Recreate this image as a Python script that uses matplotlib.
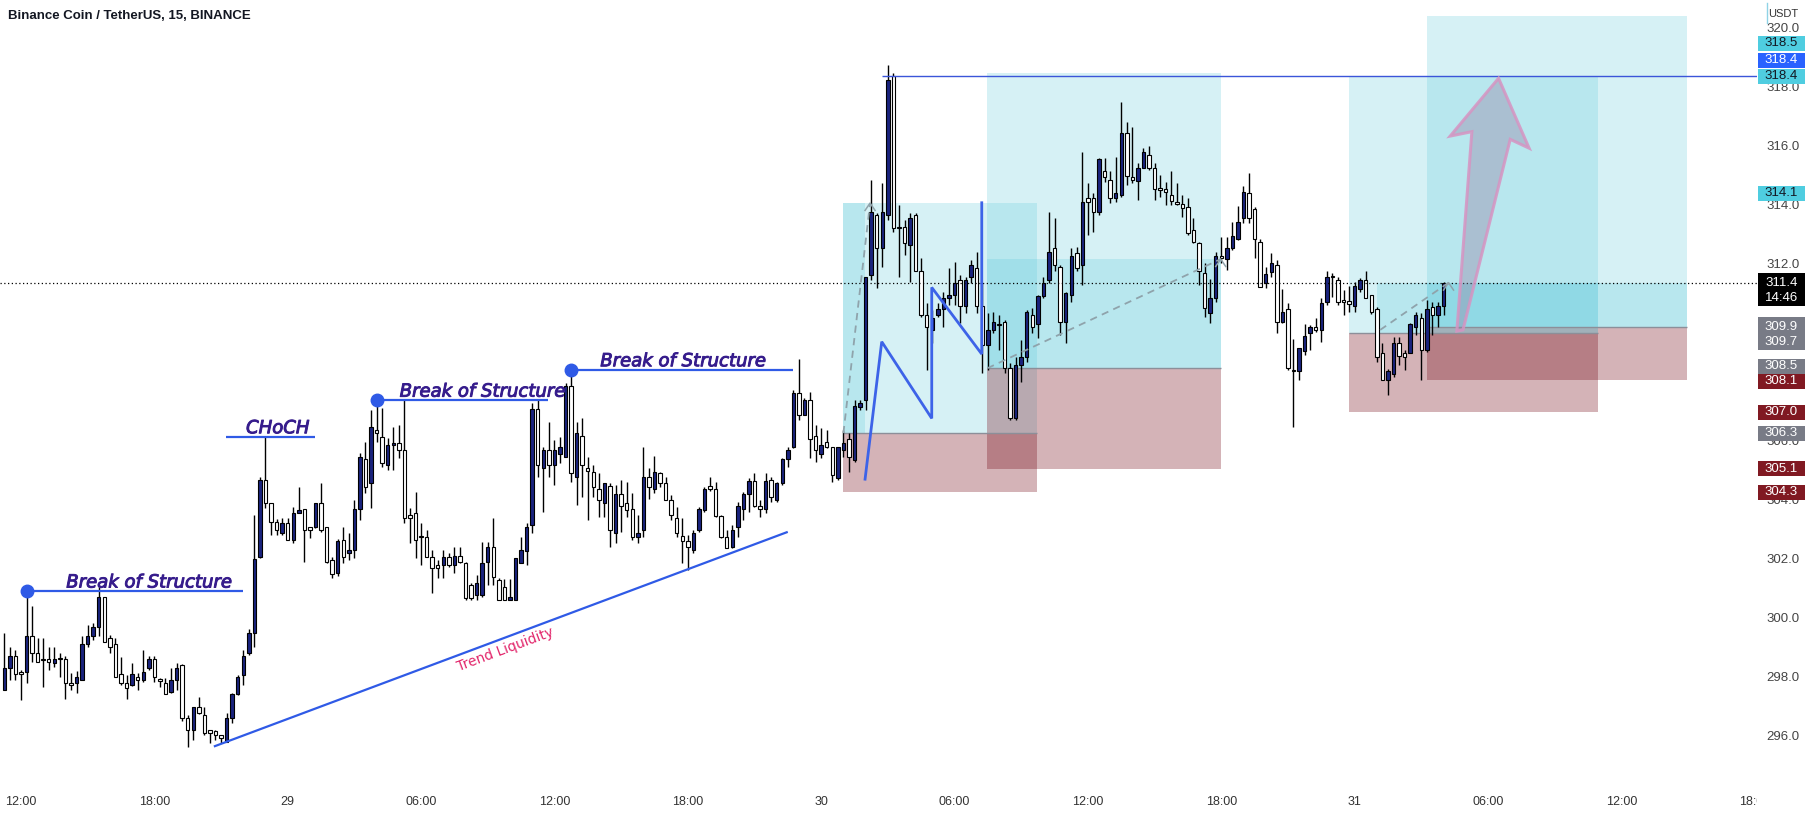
import numpy as np
import matplotlib
matplotlib.use("Agg")
import matplotlib.pyplot as plt
import matplotlib.patheffects as pe
from matplotlib.patches import Rectangle, Polygon
from matplotlib.lines import Line2D
from matplotlib.transforms import Bbox, IdentityTransform, blended_transform_factory

# BNBUSDT 15m candles, bar 0 = 28th 12:00
FIRST_BAR = -3
opens = [
    297.59, 298.33, 298.75, 298.21, 298.21, 299.42, 298.84, 298.64, 298.64, 298.52,
    298.64, 298.64, 297.84, 297.84, 297.93, 299.14, 299.42, 299.72, 300.73, 299.37,
    299.14, 298.12, 297.84, 297.76, 298.05, 297.93, 298.33, 298.64, 297.93, 297.84,
    297.54, 297.93, 298.44, 296.63, 296.24, 297.03, 296.75, 296.24, 296.21, 296.07,
    295.84, 296.63, 297.46, 298.10, 298.84, 299.51, 302.11, 304.71, 303.92, 303.30,
    302.90, 303.24, 302.68, 303.60, 303.72, 303.11, 303.13, 303.92, 303.11, 302.00,
    301.55, 302.68, 302.23, 302.34, 303.72, 305.41, 304.60, 306.41, 306.18, 305.22,
    305.90, 305.98, 305.73, 303.53, 303.60, 302.79, 302.79, 302.11, 301.83, 301.83,
    302.11, 301.83, 302.13, 301.91, 301.15, 300.81, 300.81, 301.94, 302.43, 301.32,
    301.07, 300.66, 300.64, 301.91, 302.32, 303.19, 307.11, 305.11, 305.73, 305.22,
    305.61, 305.50, 307.90, 304.82, 306.20, 305.11, 304.99, 304.40, 303.92, 304.51,
    302.90, 304.24, 303.94, 303.72, 302.79, 303.02, 304.82, 304.40, 304.94, 304.62,
    304.03, 303.41, 302.81, 302.65, 302.34, 303.02, 303.69, 304.51, 304.40, 303.49,
    302.79, 302.45, 303.13, 303.72, 304.24, 304.69, 303.83, 303.72, 304.71, 304.03,
    304.60, 305.41, 305.84, 307.67, 306.91, 307.42, 306.20, 305.61, 306.01, 305.84,
    304.77, 305.73, 306.09, 305.39, 307.20, 307.42, 311.66, 313.70, 312.57, 313.70,
    318.39, 313.30, 313.30, 312.68, 313.70, 311.78, 310.31, 309.80, 310.31, 310.50,
    310.87, 310.98, 311.49, 310.61, 311.61, 311.89, 310.61, 309.29, 309.80, 310.00,
    310.08, 308.50, 306.80, 308.61, 308.89, 310.31, 310.00, 310.95, 311.49, 312.57,
    311.94, 310.08, 310.98, 312.42, 312.00, 314.26, 314.26, 313.78, 315.17, 314.88,
    314.26, 314.37, 316.47, 314.97, 314.86, 315.28, 315.73, 315.28, 314.60, 314.57,
    314.37, 314.15, 314.07, 313.98, 313.19, 312.76, 311.72, 310.36, 310.87, 312.31,
    312.19, 312.57, 312.87, 313.58, 314.45, 313.89, 312.79, 311.38, 311.77, 312.00,
    310.08, 310.50, 308.42, 308.39, 309.10, 309.69, 309.91, 309.78, 310.76, 311.61,
    311.49, 310.82, 310.78, 310.61, 311.18, 311.49, 310.98, 310.50, 309.01, 308.10,
    308.31, 309.37, 309.03, 309.03, 309.91, 310.19, 309.12, 310.59, 310.31, 310.61,
]
highs = [
    299.51, 299.06, 298.95, 298.27, 300.98, 300.44, 299.34, 299.34, 299.04, 299.04,
    298.84, 298.75, 298.16, 298.25, 299.42, 299.80, 299.85, 301.07, 300.73, 299.46,
    299.34, 298.72, 298.10, 298.52, 298.16, 298.95, 298.75, 298.75, 297.99, 297.99,
    298.33, 298.50, 298.47, 296.75, 297.03, 297.34, 297.03, 296.24, 296.24, 296.07,
    296.80, 297.48, 298.10, 298.95, 299.65, 303.53, 304.80, 306.18, 303.92, 303.38,
    303.41, 303.41, 303.81, 304.49, 303.72, 303.13, 303.92, 304.60, 303.13, 302.11,
    302.70, 303.13, 302.90, 304.03, 305.62, 306.01, 307.09, 307.42, 307.14, 306.12,
    306.52, 306.58, 307.42, 303.75, 304.32, 303.24, 303.02, 302.34, 302.00, 302.34,
    302.23, 302.43, 302.43, 301.94, 301.21, 301.49, 302.62, 302.62, 303.41, 301.38,
    301.34, 301.34, 302.06, 302.79, 303.24, 307.31, 307.42, 305.84, 306.69, 306.07,
    306.18, 307.99, 308.38, 306.69, 306.80, 305.50, 305.22, 304.94, 304.62, 304.62,
    304.54, 304.71, 304.65, 304.26, 303.52, 305.84, 305.11, 305.53, 304.99, 304.82,
    304.20, 303.81, 303.41, 302.85, 303.02, 303.81, 304.48, 304.80, 304.65, 303.52,
    303.02, 303.19, 303.98, 304.31, 304.77, 304.94, 304.03, 304.94, 304.82, 304.65,
    305.45, 305.84, 307.76, 308.80, 307.48, 307.71, 306.58, 306.46, 306.41, 305.84,
    305.84, 306.40, 306.29, 307.42, 307.42, 311.61, 314.88, 313.75, 314.77, 318.78,
    318.50, 314.04, 313.53, 313.75, 313.75, 312.23, 310.70, 310.48, 310.70, 311.10,
    311.89, 312.11, 311.66, 311.61, 312.17, 312.45, 311.38, 310.36, 310.42, 310.31,
    310.14, 308.67, 308.89, 309.46, 310.48, 310.53, 310.98, 311.61, 313.81, 313.58,
    312.00, 311.10, 312.57, 312.62, 315.84, 314.77, 314.43, 315.62, 315.62, 315.17,
    315.67, 317.54, 316.86, 316.67, 315.45, 315.96, 316.04, 315.45, 315.05, 314.83,
    315.17, 314.77, 314.37, 314.26, 313.58, 312.79, 312.06, 311.52, 312.45, 312.96,
    312.96, 313.47, 314.00, 314.68, 315.11, 313.98, 312.87, 311.94, 312.40, 312.17,
    311.18, 310.70, 309.48, 309.18, 310.00, 309.97, 310.19, 310.87, 311.78, 311.72,
    311.58, 311.15, 311.29, 311.44, 311.55, 311.78, 310.98, 310.59, 309.37, 308.46,
    309.57, 309.57, 309.12, 310.02, 310.39, 310.36, 310.82, 310.76, 310.76, 311.44,
]
lows = [
    297.59, 297.93, 297.93, 297.25, 297.84, 298.55, 298.55, 297.68, 298.27, 298.36,
    298.05, 297.28, 297.59, 297.48, 297.93, 299.06, 299.29, 299.42, 299.23, 298.86,
    298.05, 297.76, 297.28, 297.73, 297.59, 297.88, 298.27, 297.88, 297.71, 297.46,
    297.48, 297.59, 296.55, 295.67, 295.90, 296.78, 296.07, 295.81, 295.90, 295.79,
    295.84, 296.46, 297.42, 297.76, 298.78, 299.06, 302.06, 303.75, 302.85, 302.85,
    302.85, 302.68, 302.57, 303.58, 301.94, 302.73, 303.07, 302.96, 301.89, 301.38,
    301.46, 301.89, 302.00, 302.06, 303.36, 304.26, 303.75, 306.01, 305.16, 305.05,
    305.05, 305.45, 303.24, 302.57, 302.06, 301.83, 302.11, 300.87, 301.38, 301.38,
    301.77, 301.55, 301.89, 300.64, 300.64, 300.64, 300.76, 301.15, 301.15, 300.64,
    300.64, 300.64, 300.64, 301.89, 301.83, 302.90, 304.82, 303.64, 304.82, 304.54,
    305.28, 305.50, 304.65, 303.86, 304.14, 303.36, 304.14, 303.47, 303.47, 302.45,
    302.56, 302.96, 303.47, 302.68, 302.56, 302.79, 304.06, 304.28, 304.48, 304.03,
    303.36, 302.79, 301.89, 301.66, 302.23, 302.96, 303.64, 304.35, 303.47, 302.73,
    302.40, 302.40, 302.79, 303.36, 303.64, 303.81, 303.47, 303.58, 303.98, 303.98,
    304.54, 305.16, 305.78, 306.75, 306.91, 305.45, 305.33, 305.45, 305.78, 304.65,
    304.71, 305.50, 304.99, 305.33, 307.09, 307.09, 311.49, 311.21, 311.94, 313.53,
    313.13, 311.61, 312.34, 311.44, 311.78, 310.25, 308.44, 309.35, 310.25, 309.91,
    310.65, 310.65, 310.02, 310.36, 311.38, 310.36, 308.33, 308.44, 309.69, 309.12,
    308.33, 306.75, 306.75, 308.05, 308.72, 309.69, 309.52, 310.87, 311.38, 311.78,
    309.63, 309.35, 310.76, 311.78, 311.32, 313.02, 313.13, 313.70, 314.83, 314.09,
    314.15, 314.32, 314.71, 314.77, 314.20, 315.34, 315.22, 314.20, 314.32, 314.04,
    314.04, 314.04, 313.64, 313.02, 312.74, 311.32, 310.25, 310.02, 310.76, 312.06,
    311.83, 312.51, 312.85, 313.41, 313.41, 312.23, 311.27, 311.21, 311.61, 309.69,
    310.02, 308.44, 306.52, 308.10, 308.95, 309.12, 309.74, 309.40, 310.65, 310.93,
    310.65, 310.31, 310.42, 310.42, 311.10, 310.87, 310.34, 308.72, 308.10, 307.59,
    308.22, 308.61, 308.44, 309.01, 309.63, 308.10, 309.06, 309.63, 309.91, 310.31,
]
closes = [
    298.33, 298.75, 298.14, 298.14, 299.42, 298.84, 298.55, 298.62, 298.55, 298.64,
    298.63, 297.84, 297.76, 298.02, 299.14, 299.42, 299.72, 300.73, 299.23, 299.04,
    298.05, 297.82, 297.65, 298.12, 297.93, 298.21, 298.64, 298.05, 297.91, 297.46,
    297.93, 298.33, 296.63, 296.24, 297.03, 296.82, 296.12, 296.15, 296.07, 295.96,
    296.63, 297.46, 298.05, 298.75, 299.51, 302.02, 304.71, 303.92, 303.30, 303.02,
    303.24, 302.68, 303.60, 303.69, 303.02, 303.02, 303.92, 303.02, 301.94, 301.53,
    302.66, 302.11, 302.34, 303.72, 305.50, 304.49, 306.50, 306.29, 305.30, 305.90,
    305.98, 305.73, 303.41, 303.41, 302.68, 302.77, 302.11, 301.72, 301.72, 302.11,
    301.83, 302.13, 301.94, 300.70, 300.70, 301.21, 301.91, 302.45, 301.43, 300.64,
    300.64, 300.76, 302.06, 302.34, 303.11, 307.11, 305.22, 305.73, 305.22, 305.73,
    305.84, 307.90, 304.94, 306.29, 305.22, 305.03, 304.48, 304.03, 304.62, 303.02,
    304.24, 303.83, 303.69, 302.79, 302.90, 304.82, 304.48, 304.99, 304.60, 304.03,
    303.52, 302.90, 302.65, 302.43, 302.90, 303.72, 304.40, 304.40, 303.49, 302.79,
    302.40, 303.02, 303.83, 304.24, 304.69, 303.83, 303.72, 304.69, 304.12, 304.60,
    305.41, 305.73, 307.67, 306.91, 307.42, 306.09, 305.73, 305.90, 305.84, 304.88,
    305.84, 305.98, 305.50, 307.22, 307.31, 311.58, 313.78, 312.57, 313.81, 318.27,
    313.24, 313.24, 312.76, 313.58, 311.78, 310.31, 309.91, 310.19, 310.50, 310.87,
    310.98, 311.38, 310.61, 311.49, 312.00, 310.61, 309.29, 309.80, 310.08, 309.97,
    308.50, 306.80, 308.61, 308.89, 310.42, 309.91, 310.95, 311.38, 312.45, 312.00,
    310.08, 311.06, 312.31, 311.89, 314.15, 314.15, 313.78, 315.58, 314.97, 314.26,
    314.45, 316.47, 315.00, 314.88, 315.28, 315.84, 315.28, 314.57, 314.54, 314.49,
    314.18, 314.07, 313.92, 313.07, 312.79, 311.78, 310.53, 310.87, 312.31, 312.23,
    312.57, 312.98, 313.47, 314.49, 313.58, 312.87, 311.27, 311.70, 312.08, 310.08,
    310.40, 308.50, 308.40, 309.18, 309.59, 309.89, 309.78, 310.70, 311.58, 311.58,
    310.76, 310.76, 310.68, 311.29, 311.49, 310.87, 310.39, 308.89, 308.10, 308.42,
    309.37, 308.92, 308.89, 310.00, 310.31, 309.12, 310.50, 310.31, 310.61, 311.38,
]

time_ticks = [0, 24, 48, 72, 96, 120, 144, 168, 192, 216, 240, 264, 288, 312]
time_labels = ['12:00', '18:00', '29', '06:00', '12:00', '18:00', '30',
               '06:00', '12:00', '18:00', '31', '06:00', '12:00', '18:00']
price_ticks = [296, 298, 300, 302, 304, 306, 308, 310, 312, 314, 316, 318, 320]

# long position tools
pos_left = [148.0, 173.9, 239.0, 253.0]
pos_right = [182.8, 215.9, 283.8, 299.9]
pos_target = [314.1, 318.5, 318.4, 320.45]
pos_entry = [306.3, 308.5, 309.7, 309.9]
pos_stop = [304.3, 305.1, 307.0, 308.1]
pos_run_from = [148.0, 173.9, 244.0, 253.0]
pos_run_to = [151.9, 215.9, 283.8, 299.9]
pos_run_price = [314.1, 312.2, 311.4, 311.4]
dash_from = [(148.0, 306.3), (173.9, 308.5), (244.6, 309.8)]
dash_to = [(152.8, 314.1), (215.9, 312.2), (256.9, 311.4)]

# structure marks
bos_start = [1, 64, 99]
bos_end = [39.9, 94.9, 138.9]
bos_price = [300.95, 307.42, 308.45]
bos_text_x = [23.0, 83.0, 119.1]
choch_span = (36.9, 52.9)
choch_price = 306.18
choch_text_x = 46.2
trend_start = (34.9, 295.69)
trend_end = (137.8, 302.94)
zig_x = [151.9, 154.9, 163.9, 163.9, 172.9, 172.9]
zig_y = [304.74, 309.40, 306.80, 311.24, 308.98, 314.11]
level_price = 318.4
level_start = 155.0
arrow_x = [258.4, 261.1, 257.2, 265.9, 271.4, 268.0, 259.5]
arrow_y = [309.76, 316.52, 316.37, 318.33, 315.96, 316.26, 309.80]

# price axis tags
tag_values = [318.5, 318.4, 318.4, 314.1, 311.4, 309.9, 308.5, 308.1, 307.0, 306.3, 305.1, 304.3]
tag_text = ['318.5', '318.4', '318.4', '314.1', '311.4\n14:46', '309.9\n309.7',
            '308.5', '308.1', '307.0', '306.3', '305.1', '304.3']
tag_bg = ['#4fcde0', '#2962ff', '#4fcde0', '#4fcde0', '#000000', '#787b86',
          '#787b86', '#801922', '#801922', '#787b86', '#801922', '#801922']
tag_fg = ['#131722', 'white', '#131722', '#131722', 'white', 'white',
          'white', 'white', 'white', 'white', 'white', 'white']
tag_shift = [-30, -16, 0, -10, 0, 0, -2, 1, 0, 0, 0, 0]

W, H = 1814, 818
PANE_R, PANE_B = 1757, 786
NAVY = '#1a237e'
BLUE = '#2f5ae6'
TEAL = (95 / 255, 203 / 255, 219 / 255, 0.25)
RED = (115 / 255, 5 / 255, 18 / 255, 0.30)
TXT = 'Liberation Sans'
LBL = '#361c8c'

fig = plt.figure(figsize=(W / 100, H / 100), dpi=100)
fig.patch.set_facecolor('white')
ax = fig.add_axes([0, (H - PANE_B) / H, PANE_R / W, PANE_B / H])
ax.set_xlim(-3.774, 312.41)
ax.set_ylim(294.339, 320.983)
ax.axis('off')

# position boxes
for lft, rgt, tgt, ent, stp in zip(pos_left, pos_right, pos_target, pos_entry, pos_stop):
    ax.add_patch(Rectangle((lft, ent), rgt - lft, tgt - ent, facecolor=TEAL, lw=0, zorder=1))
    ax.add_patch(Rectangle((lft, stp), rgt - lft, ent - stp, facecolor=RED, lw=0, zorder=1))
    ax.hlines(ent, lft, rgt, color='#8c8f99', lw=1.0, zorder=2)
for a, b, p, ent in zip(pos_run_from, pos_run_to, pos_run_price, pos_entry):
    ax.add_patch(Rectangle((a, ent), b - a, p - ent, facecolor=TEAL, lw=0, zorder=1))

# candles
bx = np.arange(len(opens)) + FIRST_BAR
o, c = np.array(opens), np.array(closes)
up = c >= o
ax.vlines(bx, lows, highs, color='black', lw=1.0, zorder=3)
ax.bar(bx, np.maximum(np.abs(c - o), 0.04), bottom=np.minimum(o, c), width=0.62,
       color=[NAVY if u else 'white' for u in up], edgecolor='black', linewidth=0.8, zorder=4)

# current price
ax.axhline(closes[-1], color='black', ls=(0, (1, 2)), lw=0.9, zorder=5)
ax.hlines(level_price, level_start, 312.41, color='#3b55d9', lw=1.0, zorder=5)

# dashed trade paths
for (x0, y0), (x1, y1) in zip(dash_from, dash_to):
    ax.plot([x0, x1], [y0, y1], color='#8fa3ab', ls=(0, (4, 3)), lw=1.3, zorder=6)
    ax.plot([x1 - 0.9, x1, x1 + 0.9], [y1 - 0.25, y1, y1 - 0.25], color='#8fa3ab', lw=1.1, zorder=6)

# structure: BOS / CHoCH
heavy = [pe.withStroke(linewidth=0.7, foreground=LBL)]
for s, e, p, tx in zip(bos_start, bos_end, bos_price, bos_text_x):
    ax.hlines(p, s, e, color=BLUE, lw=1.6, zorder=6)
    ax.plot(s, p, 'o', color=BLUE, ms=9, zorder=7)
    ax.annotate('Break of Structure', (tx, p), xytext=(0, 2.5), textcoords='offset points',
                ha='center', va='baseline', fontsize=13, style='italic',
                color=LBL, family='DejaVu Sans', zorder=7, path_effects=heavy)
ax.hlines(choch_price, *choch_span, color=BLUE, lw=1.6, zorder=6)
ax.annotate('CHoCH', (choch_text_x, choch_price), xytext=(0, 2.5), textcoords='offset points',
            ha='center', va='baseline', fontsize=13, style='italic',
            color=LBL, family='DejaVu Sans', zorder=7, path_effects=heavy)

# trend liquidity
ax.plot([trend_start[0], trend_end[0]], [trend_start[1], trend_end[1]], color=BLUE, lw=1.6, zorder=6)
ax.text(87.1, 298.95, 'Trend Liquidity', rotation=20.5, rotation_mode='anchor',
        ha='center', va='center', fontsize=10, color='#e2266b', family='DejaVu Sans', zorder=7)

# zigzag
ax.plot(zig_x, zig_y, color='#3d63e8', lw=2.0, zorder=6, solid_joinstyle='miter')

# target arrow
ax.add_patch(Polygon(list(zip(arrow_x, arrow_y)), closed=True, facecolor=(0.58, 0.5, 0.64, 0.38),
                     edgecolor=(0.84, 0.58, 0.76, 0.85), lw=2.2, zorder=8))

# price scale
tr_y = blended_transform_factory(IdentityTransform(), ax.transData)
for p in price_ticks:
    ax.text(1783, p, f'{p:.1f}', transform=tr_y, ha='center', va='center',
            fontsize=9.5, color='#444444', family=TXT, clip_on=False, zorder=1)
ppu = PANE_B / (320.983 - 294.339)
for val, txt, bg, fg, sh in zip(tag_values, tag_text, tag_bg, tag_fg, tag_shift):
    if '\n' not in txt:
        yc = val - sh / ppu
        ax.add_patch(Rectangle((1758, yc - 7.5 / ppu), 47, 15 / ppu, transform=tr_y,
                               facecolor=bg, edgecolor='none', clip_on=False, zorder=20))
        ax.text(1781.5, yc, txt, transform=tr_y, ha='center', va='center',
                fontsize=9.5, color=fg, family=TXT, clip_on=False, zorder=21)
    else:
        l1, l2 = txt.split('\n')
        ax.add_patch(Rectangle((1758, val - 23.5 / ppu), 47, 33 / ppu, transform=tr_y,
                               facecolor=bg, edgecolor='none', clip_on=False, zorder=20))
        ax.text(1781.5, val, l1, transform=tr_y, ha='center', va='center',
                fontsize=9.5, color=fg, family=TXT, clip_on=False, zorder=21)
        ax.text(1781.5, val - 15 / ppu, l2, transform=tr_y, ha='center', va='center',
                fontsize=9.5, color=fg, family=TXT, clip_on=False, zorder=21)

fig.text(1768 / W, 1 - 14 / H, 'USDT', ha='left', va='center', fontsize=8, color='#333333', family=TXT)
fig.add_artist(Line2D([1767 / W, 1767 / W], [1 - 3 / H, 1 - 23 / H], color='#8fd3e6', lw=1))

# time scale
tr_x = blended_transform_factory(ax.transData, IdentityTransform())
clip = Bbox.from_extents(0, 0, PANE_R, 40)
for t, lab in zip(time_ticks, time_labels):
    tt = ax.text(t, 16, lab, transform=tr_x, ha='center', va='center',
                 fontsize=9, color='#333333', family=TXT, clip_on=True)
    tt.set_clip_box(clip)

fig.text(8 / W, 1 - 16 / H, 'Binance Coin / TetherUS, 15, BINANCE', ha='left', va='center',
         fontsize=9.5, fontweight='bold', color='#131722', family=TXT)

fig.savefig('out.png', dpi=100, facecolor='white')
